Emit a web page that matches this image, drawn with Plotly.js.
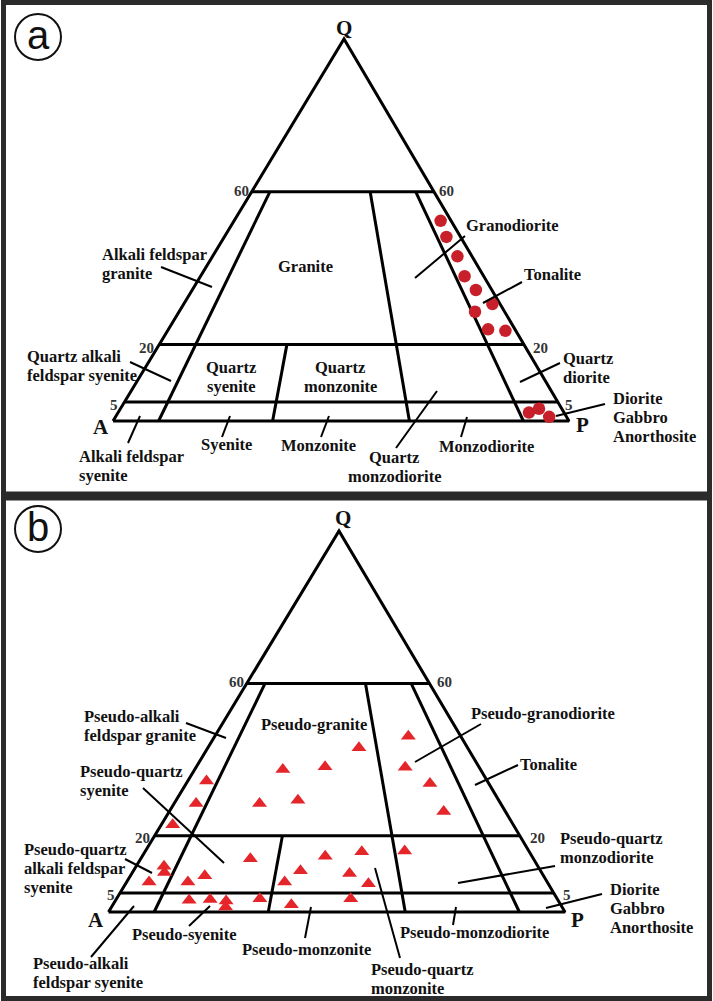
<!DOCTYPE html>
<html><head><meta charset="utf-8">
<script src="https://cdn.plot.ly/plotly-3.0.1.min.js"></script>
<style>html,body{margin:0;padding:0;background:#fff}#chart{width:713px;height:1001px}</style>
</head><body><div id="chart"></div>
<script>
// ---------- DATA (QAP modal compositions, %) ----------
// Panel (a): samples, red circles
const aQ = [52.4, 48.2, 43.1, 37.9, 34.3, 30.6, 28.6, 24.0, 23.6, 2.2, 3.2, 1.1];
const aA = [2.3, 3.1, 3.2, 4.2, 3.5, 1.7, 6.5, 5.9, 2.3, 7.7, 5.0, 3.8];
const aP = [45.3, 48.7, 53.7, 57.9, 62.2, 67.7, 64.9, 70.1, 74.1, 90.1, 91.8, 95.1];
// Panel (b): samples, red triangles
const bQ = [46.1, 43.1, 37.4, 38.1, 38.0, 34.4, 33.7, 28.5, 28.5, 29.3, 26.4, 22.9, 14.0, 14.6, 15.8, 16.0,
            12.0, 10.4, 7.9, 7.9, 9.5, 10.8, 10.1, 7.9, 7.4, 3.1, 3.3, 2.9, 1.3, 3.5, 1.9, 3.5];
const bA = [11.5, 23.8, 43.3, 33.7, 16.2, 61.5, 12.9, 66.7, 52.8, 44.0, 13.5, 74.6, 62.0, 45.3, 36.7, 27.2,
            81.9, 82.6, 87.2, 78.7, 74.2, 52.6, 42.2, 57.5, 39.4, 80.8, 76.1, 72.8, 73.7, 65.1, 59.0, 45.2];
const bP = [42.4, 33.1, 19.3, 28.2, 45.8, 4.1, 53.4, 4.8, 18.7, 26.7, 60.1, 2.5, 24.0, 40.1, 47.5, 56.8,
            6.1, 7.0, 4.9, 13.4, 16.3, 36.6, 47.7, 34.6, 53.2, 16.1, 20.6, 24.3, 25.0, 31.4, 39.1, 51.3];
// Field boundaries (Streckeisen QAP)
const qLevels = [60, 20, 5];            // horizontal Q lines
const pRatios = [10, 35, 65, 90];       // 100*P/(A+P) lines
const pRatioTop = [60, 20, 60, 60];     // Q value where each ratio line starts
const qTickLabels = ['60', '20', '5'];
const apexLabels = ['Q', 'A', 'P'];

// ---------- GEOMETRY (page pixels) ----------
const TRI_A = {A: [113, 421], P: [569, 421], Q: [344, 39]};
const TRI_B = {A: [108.5, 912], P: [565, 912], Q: [339, 531]};

function toXY(tri, q, a, p) {
  const s = q + a + p;
  return [(a * tri.A[0] + p * tri.P[0] + q * tri.Q[0]) / s,
          (a * tri.A[1] + p * tri.P[1] + q * tri.Q[1]) / s];
}

function diagramTraces(tri, xa, ya) {
  const out = [];
  const corners = [[0, 100, 0], [0, 0, 100], [100, 0, 0], [0, 100, 0]].map(c => toXY(tri, c[0], c[1], c[2]));
  out.push({type: 'scatter', mode: 'lines', x: corners.map(c => c[0]), y: corners.map(c => c[1]),
    xaxis: xa, yaxis: ya, line: {color: '#000', width: 3}, hoverinfo: 'skip'});
  const lx = [], ly = [];
  qLevels.forEach(L => {
    const p1 = toXY(tri, L, 100 - L, 0), p2 = toXY(tri, L, 0, 100 - L);
    lx.push(p1[0], p2[0], null); ly.push(p1[1], p2[1], null);
  });
  pRatios.forEach((r, i) => {
    const t = pRatioTop[i];
    const p1 = toXY(tri, t, (100 - t) * (100 - r) / 100, (100 - t) * r / 100);
    const p2 = toXY(tri, 0, 100 - r, r);
    lx.push(p1[0], p2[0], null); ly.push(p1[1], p2[1], null);
  });
  out.push({type: 'scatter', mode: 'lines', x: lx, y: ly, xaxis: xa, yaxis: ya,
    line: {color: '#000', width: 3}, hoverinfo: 'skip', connectgaps: false});
  return out;
}

function sampleTrace(tri, Q, A, P, xa, ya, marker) {
  const pts = Q.map((q, i) => toXY(tri, q, A[i], P[i]));
  return {type: 'scatter', mode: 'markers', x: pts.map(p => p[0]), y: pts.map(p => p[1]),
    xaxis: xa, yaxis: ya, marker: marker, cliponaxis: false, hoverinfo: 'skip'};
}

const traces = [
  ...diagramTraces(TRI_A, 'x', 'y'),
  sampleTrace(TRI_A, aQ, aA, aP, 'x', 'y', {symbol: 'circle', size: 12.5, color: '#c8202a', line: {width: 0}}),
  ...diagramTraces(TRI_B, 'x2', 'y2'),
  sampleTrace(TRI_B, bQ, bA, bP, 'x2', 'y2', {symbol: 'triangle-up', size: 13, color: '#e4262b', line: {width: 0}})
];

// ---------- TEXT ----------
const annotations = [];
const shapes = [];
const FONT = 'Liberation Serif, Times New Roman, serif';
function lab(ax, anchor, x, y, lines, size, color) {
  lines.forEach((t, i) => {
    annotations.push({xref: 'x' + ax, yref: 'y' + ax, x: x, y: y + i * 19, text: '<b>' + t + '</b>',
      showarrow: false, xanchor: anchor, yanchor: 'middle',
      font: {family: FONT, size: size || 16.5, color: color || '#111'}});
  });
}
function leader(ax, seg) {
  shapes.push({type: 'line', xref: 'x' + ax, yref: 'y' + ax, x0: seg[0][0], y0: seg[0][1], x1: seg[1][0], y1: seg[1][1],
    line: {color: '#000', width: 2}});
}

// Panel a
const A_LABELS = [
  ['left', 100, 254, ['Alkali feldspar', 'granite']],
  ['center', 305, 266, ['Granite']],
  ['left', 464, 225, ['Granodiorite']],
  ['left', 522, 274, ['Tonalite']],
  ['left', 25, 356, ['Quartz alkali', 'feldspar syenite']],
  ['center', 231, 367, ['Quartz', 'syenite']],
  ['center', 340, 367, ['Quartz', 'monzonite']],
  ['left', 561, 358, ['Quartz', 'diorite']],
  ['left', 611, 398, ['Diorite', 'Gabbro', 'Anorthosite']],
  ['center', 226, 444, ['Syenite']],
  ['center', 318, 445, ['Monzonite']],
  ['center', 486, 446, ['Monzodiorite']],
  ['center', 394, 457, ['Quartz', 'monzodiorite']],
  ['left', 77, 456, ['Alkali feldspar', 'syenite']]
];
const A_LEADERS = [[[161, 267], [212, 287]], [[465, 236], [415, 278]], [[522, 282], [483, 303]],
  [[130, 362], [171, 381]], [[560, 363], [520, 382]], [[605, 404], [556, 416]], [[140, 416], [128, 443]],
  [[230, 416], [222, 437]], [[329, 416], [321, 437]], [[437, 391], [396, 448]], [[467, 417], [461, 437]]];
A_LABELS.forEach(l => lab('', l[0], l[1], l[2], l[3]));
A_LEADERS.forEach(s => leader('', s));
[[241, 191, 446, 191], [146, 348, 540, 348], [114, 405, 569, 405]].forEach((p, i) => {
  lab('', 'center', p[0], p[1], [qTickLabels[i]], 15, '#333');
  lab('', 'center', p[2], p[3], [qTickLabels[i]], 15, '#333');
});
lab('', 'center', 344, 28, [apexLabels[0]], 21);
lab('', 'center', 101, 427, [apexLabels[1]], 21);
lab('', 'center', 582, 425, [apexLabels[2]], 21);

// Panel b
const B_LABELS = [
  ['left', 82, 716, ['Pseudo-alkali', 'feldspar granite']],
  ['center', 314, 724, ['Pseudo-granite']],
  ['left', 469, 713, ['Pseudo-granodiorite']],
  ['left', 518, 764, ['Tonalite']],
  ['left', 78, 771, ['Pseudo-quartz', 'syenite']],
  ['left', 22, 849, ['Pseudo-quartz', 'alkali feldspar', 'syenite']],
  ['left', 558, 838, ['Pseudo-quartz', 'monzodiorite']],
  ['left', 608, 889, ['Diorite', 'Gabbro', 'Anorthosite']],
  ['center', 184, 934, ['Pseudo-syenite']],
  ['center', 306, 949, ['Pseudo-monzonite']],
  ['center', 474, 932, ['Pseudo-monzodiorite']],
  ['left', 369, 969, ['Pseudo-quartz', 'monzonite']],
  ['left', 31, 963, ['Pseudo-alkali', 'feldspar syenite']]
];
const B_LEADERS = [[[186, 723], [226, 738]], [[481, 724], [415, 762]], [[518, 765], [475, 785]],
  [[143, 788], [224, 863]], [[125, 859], [152, 873]], [[555, 866], [458, 883]], [[602, 894], [546, 908]],
  [[210, 906], [189, 926]], [[311, 907], [305, 938]], [[456, 907], [453, 925]], [[375, 868], [400, 958]],
  [[134, 906], [91, 957]]];
B_LABELS.forEach(l => lab('2', l[0], l[1], l[2], l[3]));
B_LEADERS.forEach(s => leader('2', s));
[[236, 682, 444, 682], [142, 838, 537, 838], [111, 895, 567, 895]].forEach((p, i) => {
  lab('2', 'center', p[0], p[1], [qTickLabels[i]], 15, '#333');
  lab('2', 'center', p[2], p[3], [qTickLabels[i]], 15, '#333');
});
lab('2', 'center', 343, 518, [apexLabels[0]], 21);
lab('2', 'center', 96, 920, [apexLabels[1]], 21);
lab('2', 'center', 577, 920, [apexLabels[2]], 21);

// Panel badges
[['', 38, 37, 'a'], ['2', 38, 529, 'b']].forEach(b => {
  shapes.push({type: 'circle', xref: 'x' + b[0], yref: 'y' + b[0], x0: b[1] - 23, x1: b[1] + 23, y0: b[2] - 23, y1: b[2] + 23,
    line: {color: '#111', width: 2}});
  annotations.push({xref: 'x' + b[0], yref: 'y' + b[0], x: b[1], y: b[2] - 2, text: b[3], showarrow: false,
    xanchor: 'center', yanchor: 'middle', font: {family: 'Liberation Sans, Arial, sans-serif', size: 40, color: '#111'}});
});

// Panel frames
shapes.push({type: 'rect', xref: 'paper', yref: 'paper', x0: 3.5 / 713, x1: 709.5 / 713, y0: 1 - 494 / 1001, y1: 1 - 2.5 / 1001,
  line: {color: '#2b2b2b', width: 5}});
shapes.push({type: 'rect', xref: 'paper', yref: 'paper', x0: 3.5 / 713, x1: 709.5 / 713, y0: 1 - 998.5 / 1001, y1: 1 - 498 / 1001,
  line: {color: '#2b2b2b', width: 5}});

const layout = {
  width: 713, height: 1001, margin: {l: 0, r: 0, t: 0, b: 0},
  paper_bgcolor: '#fff', plot_bgcolor: '#fff', showlegend: false,
  xaxis: {domain: [0, 1], range: [0, 713], visible: false, fixedrange: true},
  yaxis: {domain: [0.5, 1], range: [500.5, 0], visible: false, fixedrange: true},
  xaxis2: {domain: [0, 1], range: [0, 713], visible: false, anchor: 'y2', fixedrange: true},
  yaxis2: {domain: [0, 0.5], range: [1001, 500.5], visible: false, anchor: 'x2', fixedrange: true},
  annotations: annotations, shapes: shapes
};
Plotly.newPlot('chart', traces, layout, {staticPlot: true, displayModeBar: false});
</script></body></html>
